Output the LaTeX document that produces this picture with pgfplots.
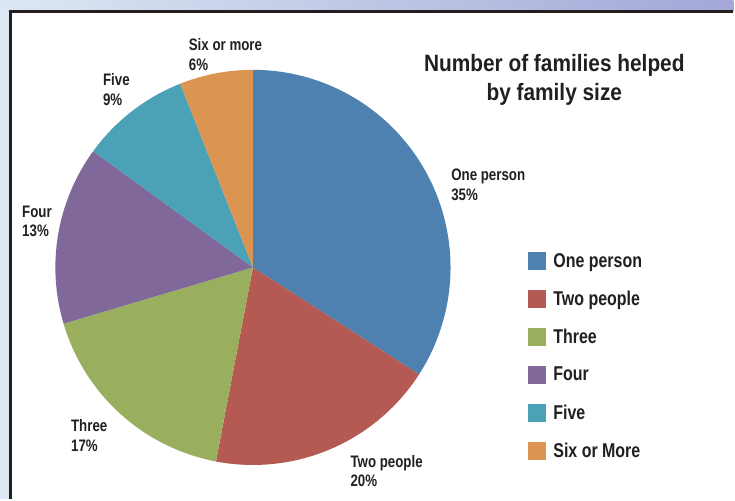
\documentclass[border=0pt]{standalone}
\usepackage{pgfplots}
\pgfplotsset{compat=1.18}
\usepackage{pgfplotstable}
\usepackage{fontspec}
\setmainfont{Liberation Sans}[FakeStretch=0.8]
\newfontfamily\titlefont{Liberation Sans}[FakeStretch=0.88]
\definecolor{txt}{HTML}{231F20}
\definecolor{pie0}{HTML}{4F81B0}
\definecolor{pie1}{HTML}{B45A52}
\definecolor{pie2}{HTML}{9AAF5E}
\definecolor{pie3}{HTML}{80689A}
\definecolor{pie4}{HTML}{4BA2B6}
\definecolor{pie5}{HTML}{DB9550}
\definecolor{bgl}{HTML}{DDE7F3}
\definecolor{bgr}{HTML}{A2A7D7}

\pgfplotstableread{
label value
One 34.1
Two 18.9
Three 17.4
Four 14.6
Five 9.0
Six 6.0
}\pietable

\begin{document}
\def\piecum{0}%
\pgfplotsforeachungrouped \i in {0,...,5}{%
  \pgfplotstablegetelem{\i}{value}\of\pietable
  \pgfmathsetmacro\pieTmpS{90-3.6*\piecum}%
  \pgfmathsetmacro\piecum{\piecum+\pgfplotsretval}%
  \pgfmathsetmacro\pieTmpE{90-3.6*\piecum}%
  \expandafter\xdef\csname pieS\i\endcsname{\pieTmpS}%
  \expandafter\xdef\csname pieE\i\endcsname{\pieTmpE}%
}%
\begin{tikzpicture}[x=0.75pt,y=0.75pt]
% background and frame
\fill[bgl] (0,0) rectangle (735,500);
\shade[left color=bgl, right color=bgr] (0,488) rectangle (735,500);
\fill[white] (10.5,0) rectangle (735,488.3);
\draw[txt, line width=2.4pt] (735,488.3) -- (10.5,488.3) -- (10.5,0);
\begin{axis}[
  scale only axis, width=551.25pt, height=375pt,
  xmin=0, xmax=735, ymin=0, ymax=500,
  hide axis, clip=false,
  legend entries={One person, Two people, Three, Four, Five, Six or More},
  legend image code/.code={\fill[#1, draw=none] (0pt,-6.75pt) rectangle (13.5pt,6.75pt);},
  legend style={draw=none, fill=none, at={(525/735,1-250/500)}, anchor=north west,
    font=\fontsize{15}{17}\selectfont\bfseries, text=txt,
    nodes={inner sep=0pt, anchor=west}, row sep=15pt, column sep=5.5pt,
    cells={anchor=west}},
]
\pgfplotsinvokeforeach{0,...,5}{%
  \edef\pieA{\csname pieE#1\endcsname}%
  \edef\pieB{\csname pieS#1\endcsname}%
  \addplot[fill=pie#1, draw=none, domain=\pieA:\pieB, samples=150]
    ({253.5+198*cos(x)},{232+198*sin(x)}) -- (axis cs:253.5,232) -- cycle;
}
\begin{scope}[every node/.style={anchor=west, align=left, inner sep=0pt, text=txt,
    font=\fontsize{12.5}{14.8}\selectfont\bfseries}]
\node at (axis cs:452,315) {One person\\35\%};
\node at (axis cs:351,28) {Two people\\20\%};
\node at (axis cs:71,63.5) {Three\\17\%};
\node at (axis cs:22,278) {Four\\13\%};
\node at (axis cs:103,410.5) {Five\\9\%};
\node at (axis cs:189,445.5) {Six or more\\6\%};
\end{scope}
\node[align=center, inner sep=0pt, text=txt, font=\titlefont\fontsize{17.8}{21.75}\selectfont\bfseries]
  at (axis cs:555.5,419.5) {Number of families helped\\by family size};
\end{axis}
\end{tikzpicture}
\end{document}
